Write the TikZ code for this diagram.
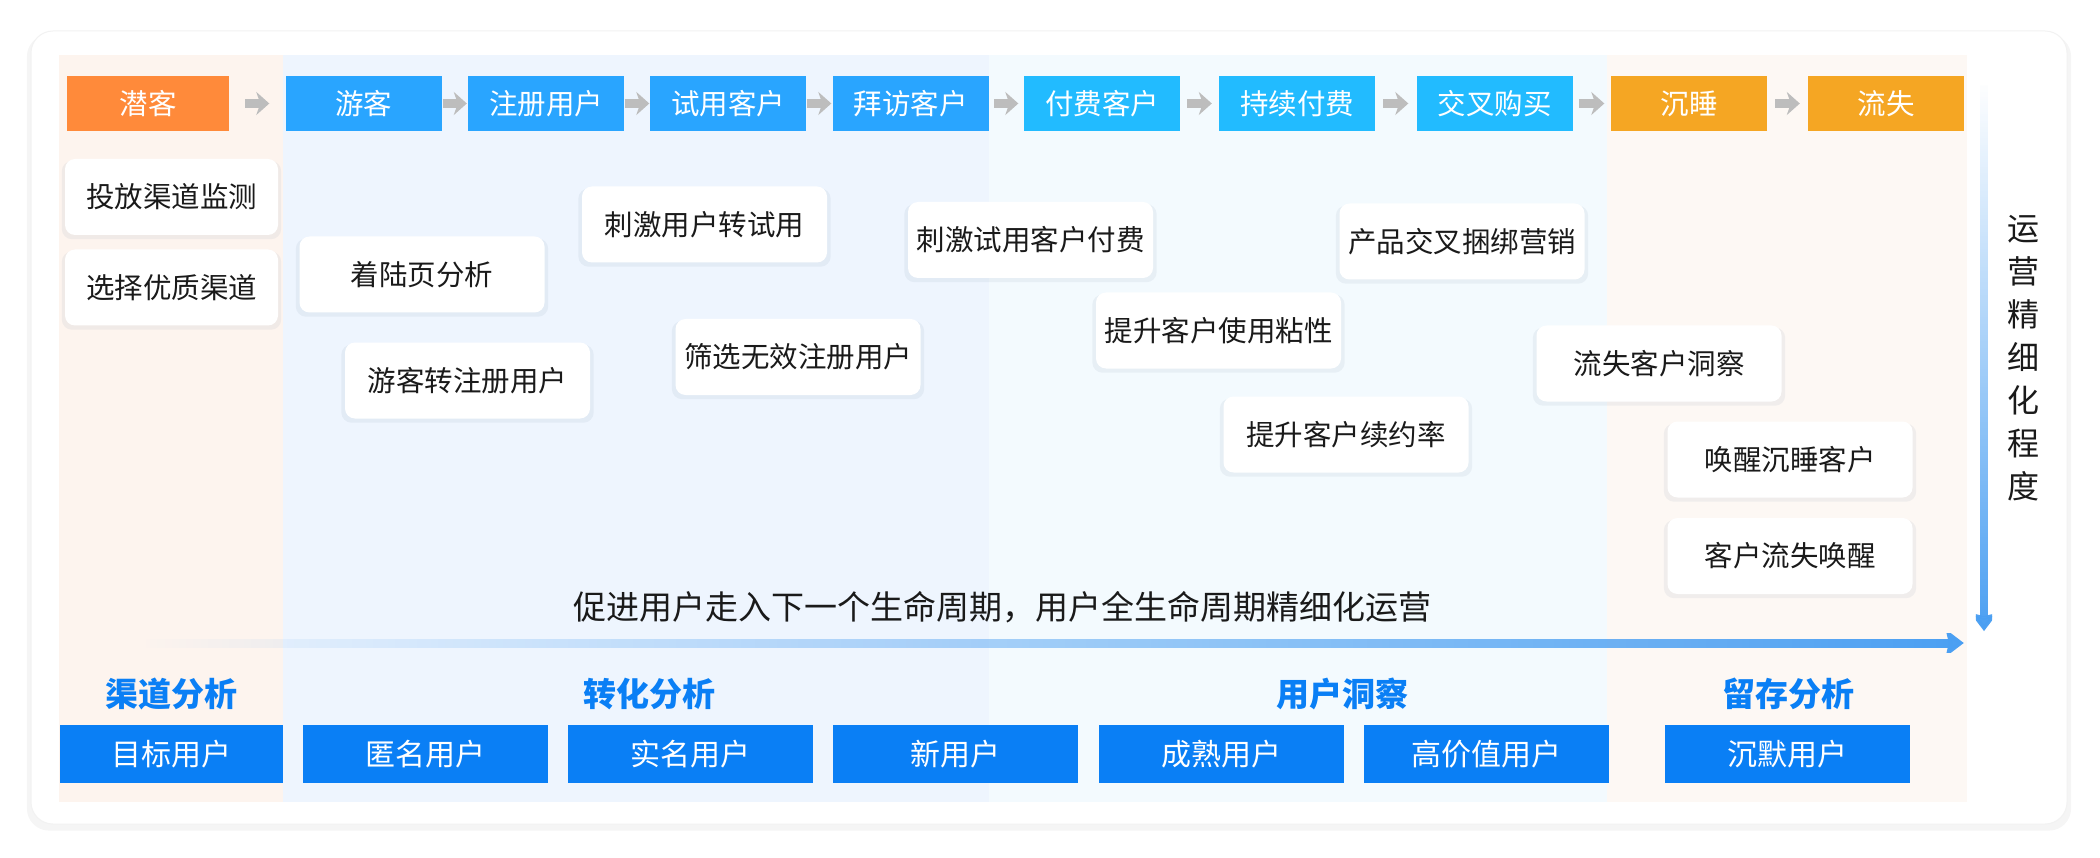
\documentclass[tikz,border=0pt]{standalone}
\usepackage{fontspec}
\setmainfont{Noto Sans CJK SC}
\usepackage{tikz}
\usetikzlibrary{arrows.meta,positioning,fadings,shadows}

\definecolor{bandPeach}{HTML}{FDF4EE}
\definecolor{bandBlue}{HTML}{EEF5FE}
\definecolor{bandSky}{HTML}{F3FAFE}
\definecolor{bandSand}{HTML}{FDF8F4}
\definecolor{stOrange}{HTML}{FF8A3A}
\definecolor{stBlue}{HTML}{29A5FF}
\definecolor{stCyan}{HTML}{22BBFF}
\definecolor{stAmber}{HTML}{F5A623}
\definecolor{arrowGray}{HTML}{BDBDBD}
\definecolor{userBlue}{HTML}{0A7FF5}
\definecolor{flowBlue}{HTML}{4A9FF2}
\definecolor{cardText}{HTML}{1A1A1A}
\definecolor{shadowTone}{HTML}{7F93AD}

\tikzfading[name=fadeEast, left color=transparent!100, right color=transparent!0]
\tikzfading[name=fadeSouth, top color=transparent!100, bottom color=transparent!0]

\tikzset{>=Stealth}
\tikzset{
  stage/.style={minimum width=156pt, minimum height=55pt, inner sep=0pt, text=white,
    font=\fontsize{28.5}{30}\selectfont},
  card/.style={fill=white, rounded corners=10pt, minimum width=245pt, minimum height=76pt,
    inner sep=0pt, text=cardText, font=\fontsize{28.5}{30}\selectfont,
    drop shadow={shadow xshift=0pt, shadow yshift=-3pt, shadow scale=1.03, fill=shadowTone, opacity=0.10}},
  user/.style={fill=userBlue, minimum width=245pt, minimum height=58pt, inner sep=0pt,
    text=white, font=\fontsize{30}{32}\selectfont},
  phase/.style={text=userBlue, font=\bfseries\fontsize{33}{35}\selectfont},
  stepArrow/.style={draw=arrowGray, line width=9pt, -{Stealth[length=13pt,width=23pt,inset=4pt]}},
  flowArrow/.style={draw=flowBlue, line width=9pt, -{Stealth[length=18pt,width=27pt,inset=3pt]}},
}

\begin{document}
\begin{tikzpicture}[x=1pt,y=-1pt]
            \useasboundingbox[fill=white] (0,0) rectangle (2100,858);
            \fill[white, draw=black!5, line width=1pt, rounded corners=22pt,
              drop shadow={shadow xshift=0pt, shadow yshift=-5pt, shadow scale=1.004, fill=black, opacity=0.04}]
              (31,31) rectangle (2067,824);
            % columns
            \fill[bandPeach] (59,55) rectangle (283,802);
            \fill[bandBlue] (283,55) rectangle (989,802);
            \fill[bandSky] (989,55) rectangle (1607,802);
            \fill[bandSand] (1607,55) rectangle (1967,802);
            % stages
            \node[stage, fill=stOrange, minimum width=162pt] at (148,103.5) (S0) {潜客};
            \node[stage, fill=stBlue] at (363.5,103.5) (S1) {游客};
            \node[stage, fill=stBlue] at (546,103.5) (S2) {注册用户};
            \node[stage, fill=stBlue] at (728,103.5) (S3) {试用客户};
            \node[stage, fill=stBlue] at (910.5,103.5) (S4) {拜访客户};
            \node[stage, fill=stCyan] at (1102,103.5) (S5) {付费客户};
            \node[stage, fill=stCyan] at (1297,103.5) (S6) {持续付费};
            \node[stage, fill=stCyan] at (1494.5,103.5) (S7) {交叉购买};
            \node[stage, fill=stAmber] at (1689,103.5) (S8) {沉睡};
            \node[stage, fill=stAmber] at (1886,103.5) (S9) {流失};
            \draw[stepArrow, shorten <=16pt, shorten >=16pt] (S0) -- (S1);
            \draw[stepArrow, shorten <=1pt, shorten >=1pt] (S1) -- (S2);
            \draw[stepArrow, shorten <=0.5pt, shorten >=0.5pt] (S2) -- (S3);
            \draw[stepArrow, shorten <=1pt, shorten >=1pt] (S3) -- (S4);
            \draw[stepArrow, shorten <=5.5pt, shorten >=5.5pt] (S4) -- (S5);
            \draw[stepArrow, shorten <=7pt, shorten >=7pt] (S5) -- (S6);
            \draw[stepArrow, shorten <=8pt, shorten >=8pt] (S6) -- (S7);
            \draw[stepArrow, shorten <=6.5pt, shorten >=6.5pt] (S7) -- (S8);
            \draw[stepArrow, shorten <=8pt, shorten >=8pt] (S8) -- (S9);
            % actions
            \node[card, minimum width=213pt] at (171.5,197) (C1) {投放渠道监测};
            \node[card, minimum width=213pt] at (171.5,287.5) (C2) {选择优质渠道};
            \node[card] at (422,274.5) (C3) {着陆页分析};
            \node[card] at (704.5,224.5) (C4) {刺激用户转试用};
            \node[card] at (467.5,380.5) (C5) {游客转注册用户};
            \node[card] at (798,357) (C6) {筛选无效注册用户};
            \node[card] at (1030.5,240) (C7) {刺激试用客户付费};
            \node[card] at (1218.5,330.5) (C8) {提升客户使用粘性};
            \node[card] at (1462,241.5) (C9) {产品交叉捆绑营销};
            \node[card] at (1346,434.5) (C10) {提升客户续约率};
            \node[card] at (1659,363.5) (C11) {流失客户洞察};
            \node[card] at (1790,459.5) (C12) {唤醒沉睡客户};
            \node[card] at (1790,556) (C13) {客户流失唤醒};
            % axes
            \coordinate (H0) at (147,643);
            \coordinate (H1) at (1967,643);
            \coordinate (V0) at (1984,85);
            \coordinate (V1) at (1984,631);
            \draw[flowArrow, path fading=fadeEast] (H0) -- (H1);
            \draw[flowArrow, line width=8pt, path fading=fadeSouth] (V0) -- (V1);
            \node[font=\fontsize{33}{35}\selectfont, text=cardText] at (1002.5,607) (T) {促进用户走入下一个生命周期，用户全生命周期精细化运营};
            \node[font=\fontsize{32}{43}\selectfont, text=cardText, align=center] at (2023,358) (V) {运\\营\\精\\细\\化\\程\\度};
            % analysis
            \node[phase] at (171,693.5) (L1) {渠道分析};
            \node[phase] at (649,693.5) (L2) {转化分析};
            \node[phase] at (1342,693.5) (L3) {用户洞察};
            \node[phase] at (1788,693.5) (L4) {留存分析};
            \node[user, minimum width=223pt] at (171.5,754) (U0) {目标用户};
            \node[user] at (425,754) (U1) {匿名用户};
            \node[user, right=20pt of U1] (U2) {实名用户};
            \node[user, right=20pt of U2] (U3) {新用户};
            \node[user, right=20pt of U3] (U4) {成熟用户};
            \node[user, right=20pt of U4] (U5) {高价值用户};
            \node[user] at (1787.5,754) (U6) {沉默用户};
\end{tikzpicture}
\end{document}
